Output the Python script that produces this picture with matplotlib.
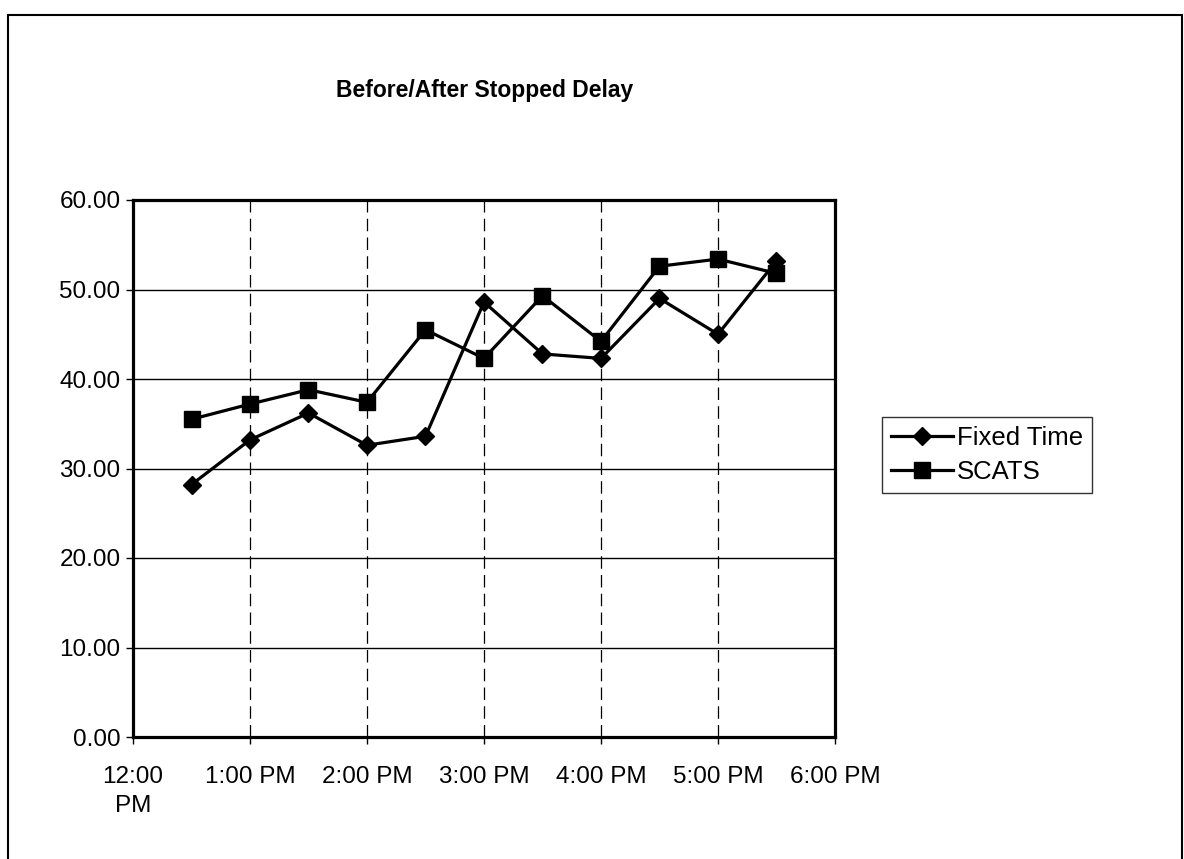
import matplotlib
matplotlib.use('Agg')
import matplotlib.pyplot as plt
from matplotlib.patches import Rectangle

plt.rcParams['font.family'] = ['Liberation Sans', 'DejaVu Sans']

# half-hour samples, hours after 12:00 PM
hours = [0.5, 1.0, 1.5, 2.0, 2.5, 3.0, 3.5, 4.0, 4.5, 5.0, 5.5]
fixed_time = [28.2, 33.2, 36.2, 32.6, 33.6, 48.6, 42.8, 42.3, 49.0, 45.0, 53.2]
scats = [35.5, 37.2, 38.8, 37.4, 45.5, 42.3, 49.3, 44.2, 52.6, 53.4, 51.8]
tick_labels = ['12:00\nPM', '1:00 PM', '2:00 PM', '3:00 PM', '4:00 PM', '5:00 PM', '6:00 PM']
y_ticks = [0, 10, 20, 30, 40, 50, 60]

fig = plt.figure(figsize=(11.84, 8.59), dpi=100)
ax = fig.add_axes([133/1184, 1-737/859, (835-133)/1184, (737-200)/859])

for y in y_ticks[1:-1]:
    ax.axhline(y, color='black', lw=1.0, zorder=1)
for x in range(1, 6):
    ax.axvline(x, color='black', lw=0.9, ls=(0, (10, 5)), zorder=1)

ax.plot(hours, fixed_time, color='black', lw=2.3, marker='D', ms=9, label='Fixed Time', zorder=3)
ax.plot(hours, scats, color='black', lw=2.3, marker='s', ms=11.5, label='SCATS', zorder=3)

ax.set_xlim(0, 6)
ax.set_ylim(0, 60)
ax.set_xticks(range(7))
ax.set_xticklabels(tick_labels, fontsize=17.5, linespacing=1.4)
ax.set_yticks(y_ticks)
ax.set_yticklabels(['%.2f' % v for v in y_ticks], fontsize=17.5)
ax.tick_params(axis='y', length=5, width=1, pad=4)
ax.tick_params(axis='x', length=5, width=1, pad=16)
for s in ax.spines.values():
    s.set_linewidth(2.3)

fig.text(485/1184, 1-91/859, 'Before/After Stopped Delay', fontsize=16.5, fontweight='bold',
         ha='center', va='center')

leg = fig.legend(loc='center left', bbox_to_anchor=(882/1184, 1-455/859), fontsize=18.5,
                 frameon=True, fancybox=False, edgecolor='black', handlelength=2.4,
                 handletextpad=0.15, borderpad=0.35, labelspacing=0.4, borderaxespad=0)
leg.get_frame().set_linewidth(1.0)

# outer chart frame
fig.patches.append(Rectangle((8/1184, -0.05), (1182-8)/1184, 1.05-15/859, transform=fig.transFigure,
                             fill=False, edgecolor='black', lw=1.5))

fig.savefig('out.png', dpi=100)
